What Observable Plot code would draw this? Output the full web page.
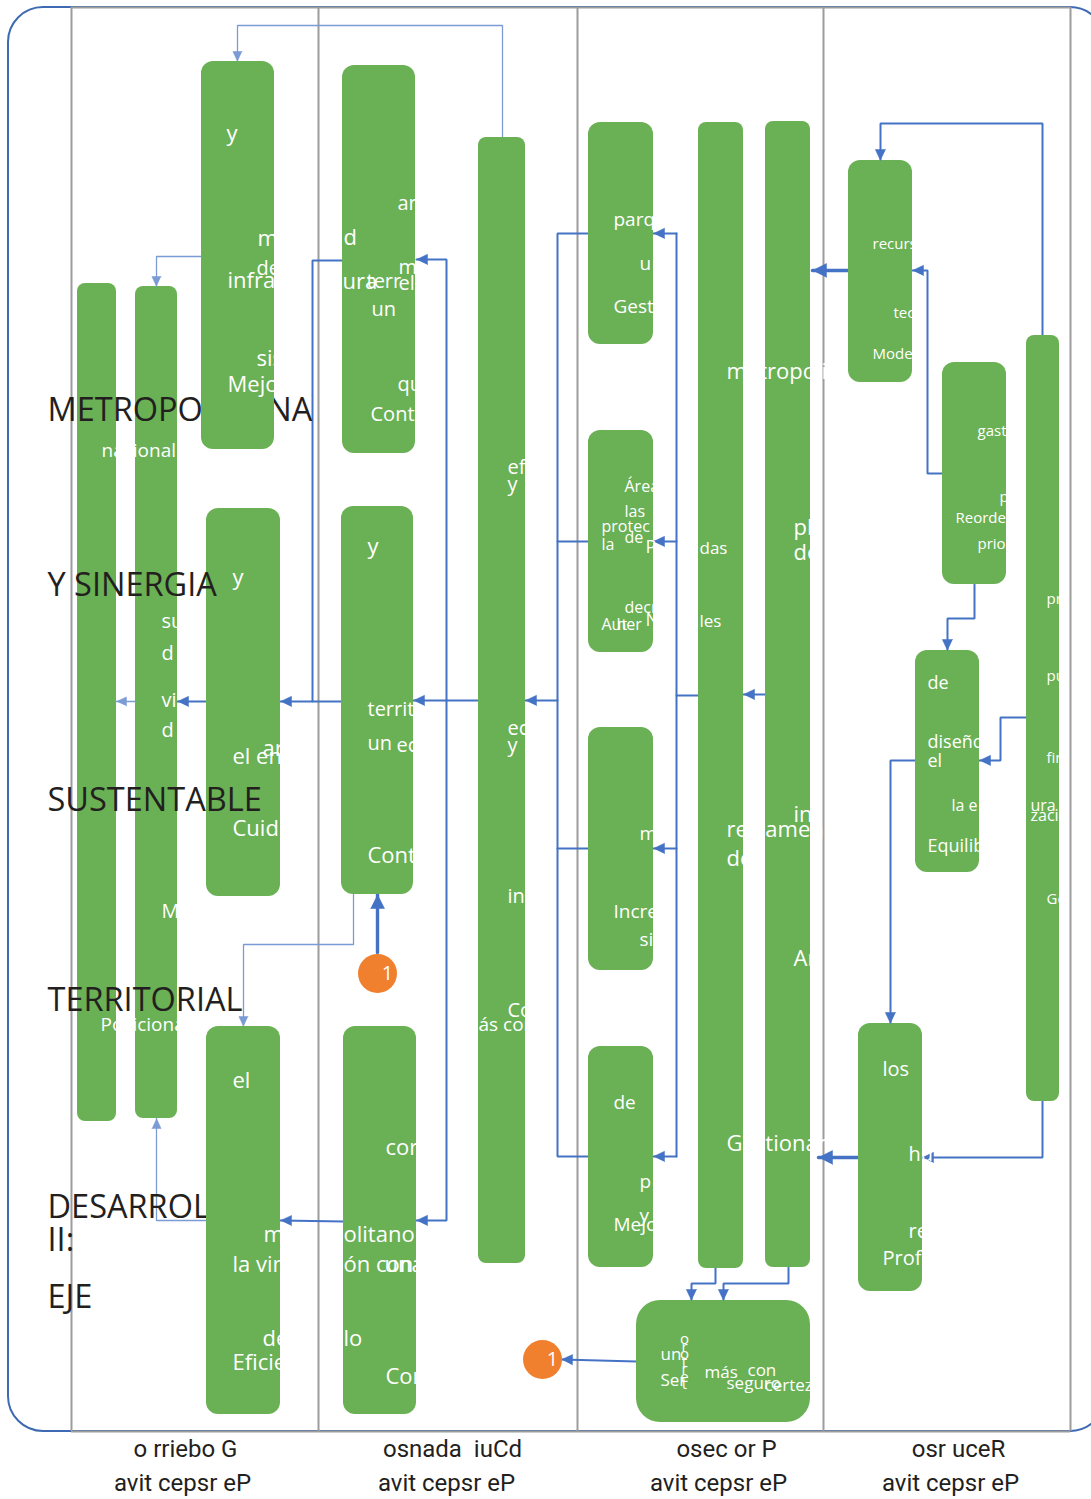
<!DOCTYPE html>
<html><head><meta charset="utf-8">
<script src="https://cdn.jsdelivr.net/npm/d3@7"></script>
<script src="https://cdn.jsdelivr.net/npm/@observablehq/plot@0.6"></script>
<style>body{margin:0;background:#fff}#chart svg{display:block}</style>
</head><body><div id="chart"></div>
<script>
// ---------- DATA (diagram units) ----------
const boxIds    = ["A","B","C","D","E","F","G","H","I","J","K","L","M","N","O","P","Q","R","S","T","U"];
const boxLeft   = [77,135,201,206,206,342,341,343,478,588,588,588,588,698,765,636,848,942,915,858,1026];
const boxRight  = [116,177,274,280,280,415,413,416,525,653,653,653,653,743,810,810,912,1006,979,922,1059];
const boxTop    = [283,286,61,508,1026,65,506,1026,137,122,430,727,1046,122,121,1300,160,362,650,1023,335];
const boxBottom = [1121,1118,449,896,1414,453,894,1414,1263,344,652,970,1267,1268,1267,1422,382,584,872,1291,1101];
const boxKind   = ["bar","bar","card","card","card","card","card","card","bar","card","card","card","card","bar","bar","panel","card","card","card","card","bar"];
const boxesUnderHeadings = ["A","B","D"];

const laneBounds = [71,318,577,823,1070];
const laneTopBottom = [7,1431];
const frameBox = [8,1105,7,1431];

const headingWords = ["METROPOLITANA","Y SINERGIA","SUSTENTABLE","TERRITORIAL","DESARROLLO","II:","EJE"];
const headingY     = [410,585,800,1000,1207,1240,1297];
const headingX     = 47;

const perspectiveNames   = ["o rriebo G","osnada  iuCd","osec or P","osr uceR"];
const perspectiveNameX   = [185,452,726,958];
const perspectiveWord    = "avit cepsr eP";
const perspectiveWordX   = [182,446,718,950];
const perspectiveRowsY   = [1449,1483];

const connectorPaths = [
  [[502,137],[502,25],[237,25],[237,61]],
  [[201,256],[156,256],[156,286]],
  [[342,260],[312,260],[312,701],[280,701]],
  [[341,701],[312,701]],
  [[206,701],[177,701]],
  [[135,701],[116,701]],
  [[478,700],[413,700]],
  [[446,700],[446,259],[416,259]],
  [[446,700],[446,1220],[416,1220]],
  [[353,894],[353,944],[243,944],[243,1026]],
  [[377,952],[377,894]],
  [[206,1220],[156,1220],[156,1118]],
  [[343,1221],[280,1220]],
  [[588,233],[557,233],[557,1156],[588,1156]],
  [[557,541],[588,541]],
  [[557,848],[588,848]],
  [[557,700],[525,700]],
  [[698,695],[676,695]],
  [[676,233],[676,1156]],
  [[676,233],[653,233]],
  [[676,541],[653,541]],
  [[676,848],[653,848]],
  [[676,1156],[653,1156]],
  [[765,694],[743,694]],
  [[848,270],[812,270]],
  [[942,473],[927,473],[927,270],[912,270]],
  [[974,584],[974,618],[947,618],[947,650]],
  [[1042,335],[1042,123],[880,123],[880,160]],
  [[1026,717],[1000,717],[1000,760],[979,760]],
  [[915,760],[890,760],[890,1023]],
  [[1042,1101],[1042,1157],[922,1157]],
  [[858,1157],[818,1157]],
  [[715,1268],[715,1283],[691,1283],[691,1300]],
  [[788,1267],[788,1283],[723,1283],[723,1300]],
  [[636,1361],[561,1359]]
];
const connectorWeight = ["thin","thin","medium","medium","medium","thin","medium","medium","medium","thin","thick","thin","medium",
  "medium","medium","medium","medium","medium","medium","medium","medium","medium","medium","medium","thick","medium","medium",
  "medium","medium","medium","medium","thick","medium","medium","medium"];
const connectorArrow = [true,true,true,false,true,true,true,true,true,true,true,true,true,
  false,false,false,true,false,false,true,true,true,true,true,true,true,true,
  true,true,true,true,true,true,true,true];

const badgeX = [377,542];
const badgeY = [973,1359];
const badgeLabel = ["1","1"];

const noteText = ["y","m","d","de","infra","ura","sis","Mejo",
  "ar","m","el","terr","un","qu","Cont",
  "nacional","su","d","vi","d","M","Posiciona",
  "y","ar","el en","Cuid",
  "y","territ","un","ec","Cont",
  "ef","y","ec","y","in","Co","ás con",
  "el","m","olitano","la vin","ón con","una","de","lo","Eficie",
  "cor","Cor",
  "parq","u","Gest",
  "Área","las","protec","de","la","P","das","decr","Aut","her","N","les",
  "m","Incre","si",
  "de","p","y","Mejo",
  "metropoli","reglamen","de","pl","de","in","Ar","Gestionar",
  "un","Ser","más","con","seguro","certeza",
  "recurs","tec","Mode",
  "gast","p","Reorde","prio",
  "de","diseño","el","la e","Equilib",
  "ura","zació","pr","pu","fin","Ge",
  "los","hu","re","Profe"];
const noteX = [226,257,343,256,227,342,256,227,
  397,398,398,366,371,397,370,
  101,161,161,161,161,161,100,
  232,262,232,232,
  367,367,367,396,367,
  507,507,507,507,507,507,478,
  232,263,343,232,343,384,262,343,232,
  385,385,
  613,639,613,
  624,624,601,624,601,645,699,624,601,616,645,699,
  639,613,639,
  613,639,639,613,
  726,726,726,793,793,793,793,726,
  660,660,704,747,726,764,
  872,893,872,
  977,999,955,977,
  927,927,927,951,927,
  1030,1030,1046,1046,1046,1046,
  882,908,908,882];
const noteY = [133,238,237,268,280,281,358,384,
  203,267,283,281,309,384,414,
  450,621,653,700,730,911,1024,
  577,748,756,828,
  546,709,743,745,855,
  467,484,728,745,896,1010,1024,
  1080,1234,1234,1264,1264,1264,1338,1338,1362,
  1147,1376,
  219,263,306,
  486,511,526,537,544,547,548,607,624,624,620,621,
  833,911,939,
  1102,1181,1215,1224,
  371,829,858,527,552,814,958,1143,
  1354,1380,1372,1370,1383,1385,
  244,313,354,
  431,497,518,544,
  683,742,761,805,846,
  805,815,599,676,758,899,
  1069,1154,1231,1258];
const noteSize = [22,22,22,20,22,22,22,22,
  20,20,20,20,20,20,20,
  19,20,20,20,20,20,19,
  22,22,22,22,
  22,20,20,20,22,
  20,20,20,20,20,20,19,
  22,22,22,22,22,22,22,22,22,
  22,22,
  19,19,19,
  16,16,16,16,16,18,17,16,16,16,18,17,
  19,19,19,
  19,19,19,19,
  22,22,22,22,22,22,22,22,
  17,17,17,17,17,17,
  15,15,15,
  15,15,15,15,
  18,18,18,16,18,
  16,16,15,15,15,15,
  20,20,20,20];
const verticalLetters = "o\nr\no\nt\nr\ne\nt";
const verticalLettersAt = [684,1364];

// ---------- BUILD ----------
const green = "#6AB054";
const blue = "#4472C4";
const boxes = boxIds.map((id,i)=>({id, l:boxLeft[i], r:boxRight[i], t:boxTop[i], b:boxBottom[i], kind:boxKind[i]}));
const under = boxes.filter(d=>boxesUnderHeadings.includes(d.id));
const over = boxes.filter(d=>!boxesUnderHeadings.includes(d.id));
const radius = {bar:8, card:12, panel:24};
const rectMarks = (arr) => Object.keys(radius).map(k =>
  Plot.rect(arr.filter(d=>d.kind===k), {x1:"l", x2:"r", y1:"t", y2:"b", fill:green, rx:radius[k]}));

const weightStyle = {thin:{w:1.3, c:"#7B9BD5", L:10, h:4.6}, medium:{w:2, c:blue, L:11, h:5.2}, thick:{w:3.4, c:blue, L:14, h:7}};
const linePts = [];
const heads = [];
connectorPaths.forEach((pts,i)=>{
  const wt = connectorWeight[i];
  pts.forEach(([x,y])=>linePts.push({id:i, x, y, wt}));
  if (connectorArrow[i]) {
    const [x1,y1] = pts[pts.length-2], [x2,y2] = pts[pts.length-1];
    const len = Math.hypot(x2-x1,y2-y1), ux=(x2-x1)/len, uy=(y2-y1)/len;
    const s = weightStyle[wt];
    const bx = x2-ux*s.L, by = y2-uy*s.L;
    heads.push({id:i, wt, x:x2, y:y2});
    heads.push({id:i, wt, x:bx - uy*s.h, y:by + ux*s.h});
    heads.push({id:i, wt, x:bx + uy*s.h, y:by - ux*s.h});
  }
});
const lineMarks = Object.keys(weightStyle).map(k => Plot.line(linePts.filter(d=>d.wt===k),
  {x:"x", y:"y", z:"id", stroke:weightStyle[k].c, strokeWidth:weightStyle[k].w, strokeLinejoin:"miter"}));
const headMarks = Object.keys(weightStyle).map(k => Plot.line(heads.filter(d=>d.wt===k),
  {x:"x", y:"y", z:"id", fill:weightStyle[k].c, stroke:weightStyle[k].c, strokeWidth:0.5}));

const headings = headingWords.map((t,i)=>({t, x:headingX, y:headingY[i]}));
const notes = noteText.map((t,i)=>({t, x:noteX[i], y:noteY[i], s:noteSize[i]}));
const noteSizes = [...new Set(noteSize)];
const badges = badgeX.map((x,i)=>({x, y:badgeY[i], t:badgeLabel[i]}));
const persp = perspectiveNames.flatMap((n,i)=>[
  {t:n, x:perspectiveNameX[i], y:perspectiveRowsY[0]},
  {t:perspectiveWord, x:perspectiveWordX[i], y:perspectiveRowsY[1]}]);

const font = "'Open Sans', 'DejaVu Sans', sans-serif";
const svg = Plot.plot({
  width:1091, height:1499, margin:0,
  x:{domain:[0,1091], axis:null},
  y:{domain:[0,1499], reverse:true, axis:null},
  style:{background:"#fff"},
  marks:[
    Plot.rect([frameBox], {x1:d=>d[0], x2:d=>d[1], y1:d=>d[2], y2:d=>d[3], fill:"none", stroke:"#3D6AB3", strokeWidth:2, rx:35}),
    Plot.ruleY(laneTopBottom, {x1:laneBounds[0], x2:laneBounds[laneBounds.length-1], stroke:"#9C9C9C", strokeWidth:2.2}),
    Plot.ruleX(laneBounds, {y1:laneTopBottom[0], y2:laneTopBottom[1], stroke:"#9C9C9C", strokeWidth:2}),
    ...lineMarks,
    ...rectMarks(under),
    Plot.text(headings, {x:"x", y:"y", text:"t", textAnchor:"start", fontSize:32.5, fill:"#231F20", fontFamily:font}),
    ...rectMarks(over),
    ...headMarks,
    Plot.dot(badges, {x:"x", y:"y", r:19.5, fill:"#F0802E", ariaLabel:"badge-circle"}),
    Plot.text(badges, {x:d=>d.x+10, y:"y", text:"t", fill:"#fff", fontSize:20, fontFamily:font}),
    ...noteSizes.map(s => Plot.text(notes.filter(d=>d.s===s), {x:"x", y:"y", text:"t", textAnchor:"start", fontSize:s, fill:"#fff", fontFamily:font})),
    Plot.text([verticalLettersAt], {x:d=>d[0], y:d=>d[1], text:()=>verticalLetters, fontSize:15, lineHeight:0.5, fill:"#fff", fontFamily:font}),
    Plot.text(persp, {x:"x", y:"y", text:"t", fontSize:24, fill:"#231F20", fontFamily:"Roboto, 'Open Sans', sans-serif"})
  ]
});
const defs = d3.select(svg).insert("defs", ":first-child");
const g = defs.append("linearGradient").attr("id","badgeGrad").attr("x1","0").attr("x2","1");
g.append("stop").attr("offset","0").attr("stop-color","#F5A46C");
g.append("stop").attr("offset","0.55").attr("stop-color","#F0802E");
g.append("stop").attr("offset","1").attr("stop-color","#EE7420");
d3.select(svg).selectAll('g[aria-label="badge-circle"] circle').attr("fill","url(#badgeGrad)");
document.getElementById("chart").appendChild(svg);
</script>
</body></html>
